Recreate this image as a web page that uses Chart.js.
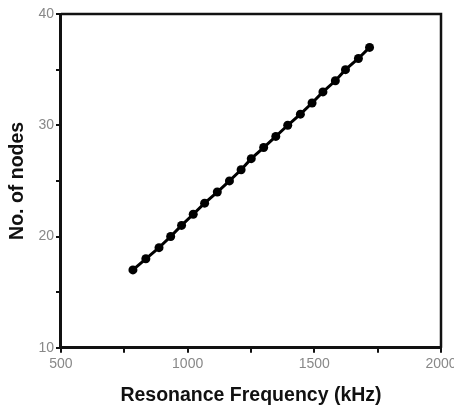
<!DOCTYPE html>
<html>
<head>
<meta charset="utf-8">
<script src="https://cdn.jsdelivr.net/npm/chart.js@4/dist/chart.umd.min.js"></script>
<style>
html,body{margin:0;padding:0;background:#fff;}
#wrap{width:454px;height:409px;}
</style>
</head>
<body>
<div id="wrap"><canvas id="c" width="454" height="409"></canvas></div>
<script>
const frequencies = [784, 835, 887, 933, 976, 1022, 1067, 1117, 1165, 1211, 1251, 1300, 1348, 1395, 1445, 1491, 1534, 1583, 1623, 1674, 1718];
const nodes = [17, 18, 19, 20, 21, 22, 23, 24, 25, 26, 27, 28, 29, 30, 31, 32, 33, 34, 35, 36, 37];
const xTickLabels = [500, 1000, 1500, 2000];
const yTickLabels = [10, 20, 30, 40];

const points = frequencies.map((f, i) => ({x: f, y: nodes[i]}));

const framePlugin = {
  id: 'frame',
  afterDraw(chart) {
    const {ctx, chartArea: a} = chart;
    ctx.save();
    ctx.strokeStyle = '#111';
    ctx.lineWidth = 2.5;
    ctx.beginPath();
    ctx.moveTo(a.left, a.top);
    ctx.lineTo(a.right, a.top);
    ctx.lineTo(a.right, a.bottom);
    ctx.stroke();
    ctx.restore();
  }
};

new Chart(document.getElementById('c'), {
  type: 'scatter',
  data: {
    datasets: [{
      data: points,
      showLine: true,
      borderColor: '#000',
      backgroundColor: '#000',
      borderWidth: 3,
      pointRadius: 4.5,
      pointBorderWidth: 0,
      pointBackgroundColor: '#000'
    }]
  },
  options: {
    responsive: false,
    animation: false,
    events: [],
    layout: {padding: {left: 6, right: 13, top: 14, bottom: 2}},
    plugins: {legend: {display: false}, tooltip: {enabled: false}},
    scales: {
      x: {
        type: 'linear',
        min: 500, max: 2000,
        afterFit(scale) { scale.paddingRight = 0; scale.paddingLeft = 0; },
        border: {display: true, color: '#111', width: 3},
        grid: {drawOnChartArea: false, drawTicks: true, tickLength: 5, color: '#111', lineWidth: 2},
        ticks: {
          stepSize: 250,
          color: '#888',
          font: {family: 'Liberation Sans, Arial, sans-serif', size: 14},
          padding: 3,
          maxRotation: 0,
          autoSkip: false,
          callback: (v) => xTickLabels.includes(v) ? String(v) : ''
        },
        title: {
          display: true,
          text: 'Resonance Frequency (kHz)',
          color: '#111',
          font: {family: 'Liberation Sans, Arial, sans-serif', size: 19.5, weight: 'bold'},
          padding: {top: 8, bottom: 0}
        }
      },
      y: {
        type: 'linear',
        min: 10, max: 40,
        afterFit(scale) { scale.paddingTop = 0; scale.paddingBottom = 0; },
        border: {display: true, color: '#111', width: 3},
        grid: {drawOnChartArea: false, drawTicks: true, tickLength: 5, color: '#111', lineWidth: 2},
        ticks: {
          stepSize: 5,
          color: '#888',
          font: {family: 'Liberation Sans, Arial, sans-serif', size: 14},
          padding: 2,
          autoSkip: false,
          callback: (v) => yTickLabels.includes(v) ? String(v) : ''
        },
        title: {
          display: true,
          text: 'No. of nodes',
          color: '#111',
          font: {family: 'Liberation Sans, Arial, sans-serif', size: 19.5, weight: 'bold'},
          padding: {top: 0, bottom: 7}
        }
      }
    }
  },
  plugins: [framePlugin]
});
</script>
</body>
</html>
